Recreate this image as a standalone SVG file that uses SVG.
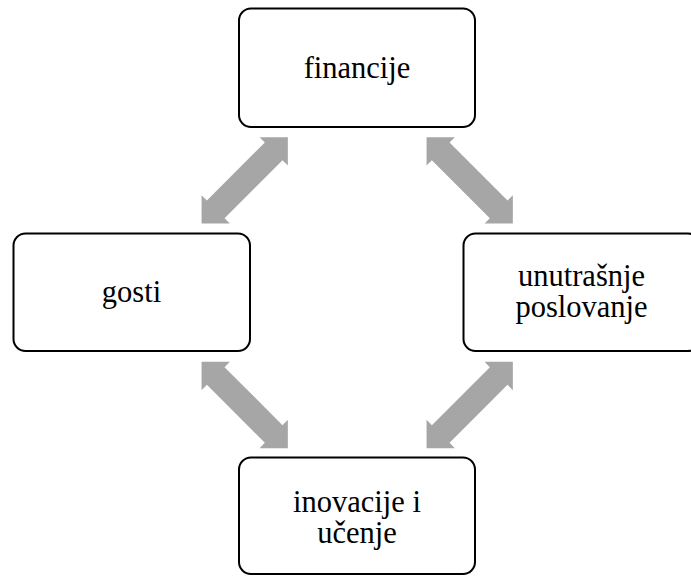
<svg xmlns="http://www.w3.org/2000/svg" width="691" height="576" viewBox="0 0 691 576">
<style>
.box{fill:#fff;stroke:#000;stroke-width:2}
.lbl{font-family:'Liberation Serif','DejaVu Serif',serif;font-size:30.5px;fill:#000;text-anchor:middle}
.arr{fill:#A6A6A6}
</style>
<defs>
<path id="dbl" d="M-61,0 L-41,-20 L-41,-12.5 L41,-12.5 L41,-20 L61,0 L41,20 L41,12.5 L-41,12.5 L-41,20 Z"/>
</defs>
<rect width="691" height="576" fill="#fff"/>
<g id="connectors" class="arr">
<use href="#dbl" transform="translate(244.7,180.3) rotate(-45)"/>
<use href="#dbl" transform="translate(469.7,180.3) rotate(45)"/>
<use href="#dbl" transform="translate(244.7,405) rotate(45)"/>
<use href="#dbl" transform="translate(469.7,405) rotate(-45)"/>
</g>
<g id="financije">
<rect class="box" x="239" y="8.5" width="236" height="118.5" rx="12"/>
<text class="lbl" font-family="Liberation Serif, serif" x="357" y="78">financije</text>
</g>
<g id="gosti">
<rect class="box" x="13.5" y="233.5" width="236.5" height="117.5" rx="12"/>
<text class="lbl" font-family="Liberation Serif, serif" x="131.5" y="302">gosti</text>
</g>
<g id="unutrasnje">
<rect class="box" x="463.5" y="233.5" width="236.5" height="117.5" rx="12"/>
<text class="lbl" font-family="Liberation Serif, serif" x="581.5" y="286">unutrašnje</text>
<text class="lbl" font-family="Liberation Serif, serif" x="581.5" y="317">poslovanje</text>
</g>
<g id="inovacije">
<rect class="box" x="239" y="457.5" width="236" height="116.5" rx="12"/>
<text class="lbl" font-family="Liberation Serif, serif" x="357" y="512">inovacije i</text>
<text class="lbl" font-family="Liberation Serif, serif" x="357" y="543">učenje</text>
</g>
</svg>
